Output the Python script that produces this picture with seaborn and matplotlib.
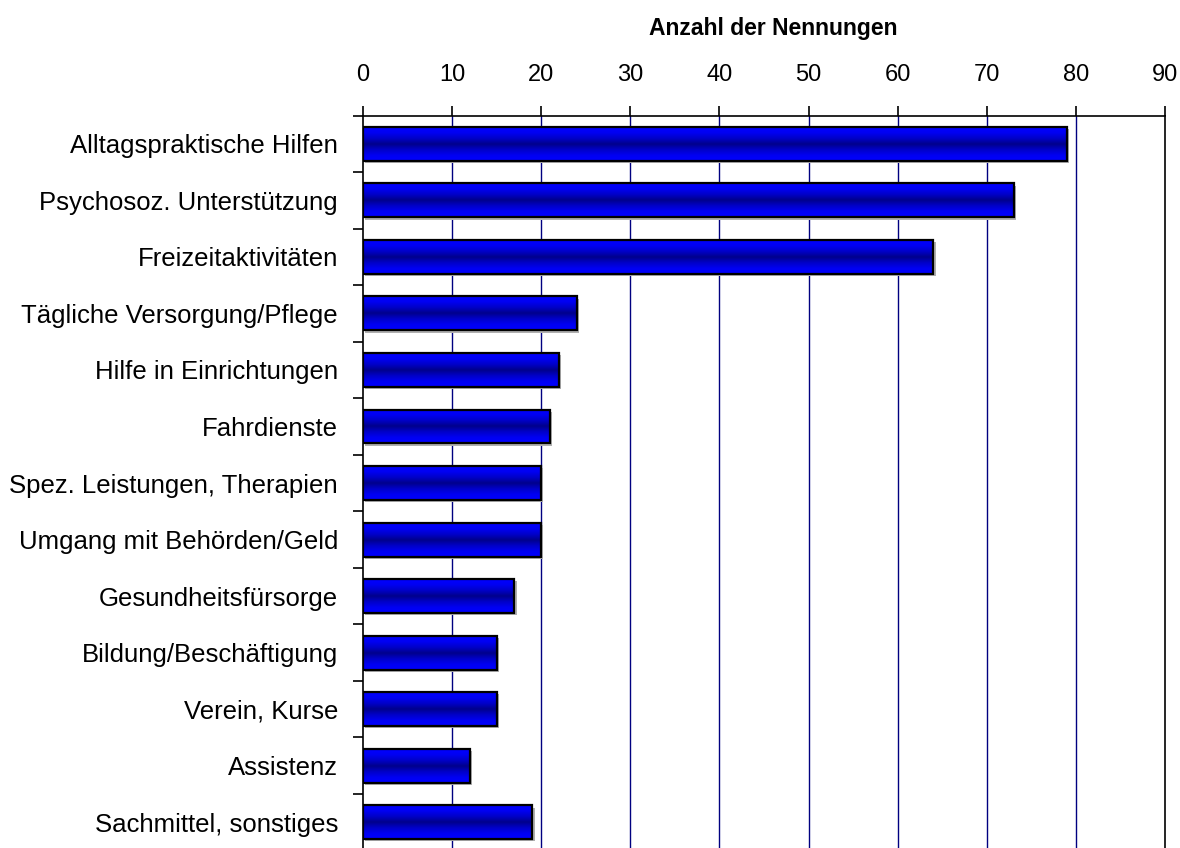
import numpy as np
import pandas as pd
import matplotlib
matplotlib.use("Agg")
import matplotlib.pyplot as plt
import seaborn as sns
from matplotlib.colors import LinearSegmentedColormap
from matplotlib.patches import Rectangle

categories = [
    "Alltagspraktische Hilfen",
    "Psychosoz. Unterstützung",
    "Freizeitaktivitäten",
    "Tägliche Versorgung/Pflege",
    "Hilfe in Einrichtungen",
    "Fahrdienste",
    "Spez. Leistungen, Therapien",
    "Umgang mit Behörden/Geld",
    "Gesundheitsfürsorge",
    "Bildung/Beschäftigung",
    "Verein, Kurse",
    "Assistenz",
    "Sachmittel, sonstiges",
]
counts = [79, 73, 64, 24, 22, 21, 20, 20, 17, 15, 15, 12, 19]
x_ticks = [0, 10, 20, 30, 40, 50, 60, 70, 80, 90]
x_title = "Anzahl der Nennungen"

df = pd.DataFrame({"Kategorie": categories, "Anzahl": counts})

sns.set_theme(style="white")
plt.rcParams["font.family"] = ["Liberation Sans", "DejaVu Sans"]

fig = plt.figure(figsize=(11.8, 8.48), dpi=100)
ax = fig.add_axes([363 / 1180, -0.003, (1165 - 363) / 1180, (850 - 115) / 848])

sns.barplot(data=df, x="Anzahl", y="Kategorie", orient="h", color="#0000ff",
            width=0.6, edgecolor="black", linewidth=1.6, ax=ax, zorder=3)

# vertical gradient fill (bright blue edges, dark navy centre) with a soft shadow
grad_cmap = LinearSegmentedColormap.from_list(
    "bar_grad", ["#0000ff", "#0000f2", "#0000c8", "#00008c", "#0000c8", "#0000f2", "#0000ff"])
grad = np.linspace(0, 1, 512).reshape(-1, 1)
for patch in list(ax.patches):
    x0, y0 = patch.get_x(), patch.get_y()
    w, h = patch.get_width(), patch.get_height()
    shadow = Rectangle((x0 + 0.25, y0 + 0.04), w, h, facecolor="#b0b0b0",
                       edgecolor="none", zorder=2)
    ax.add_patch(shadow)
    im = ax.imshow(grad, cmap=grad_cmap, aspect="auto",
                   extent=(x0, x0 + w, y0 + h, y0), zorder=3.5,
                   interpolation="bilinear")
    im.set_clip_path(patch)
    patch.set_facecolor("none")
    patch.set_zorder(4)

ax.set_xlim(0, 90)
ax.set_ylim(len(categories) - 0.5, -0.5)

# x axis on top
ax.xaxis.tick_top()
ax.xaxis.set_label_position("top")
ax.set_xticks(x_ticks)
ax.set_xticklabels([str(t) for t in x_ticks], fontsize=17, color="black")
ax.tick_params(axis="x", which="major", direction="out", length=7, width=1.2,
               color="black", pad=14, top=True, bottom=False)
ax.set_xlabel(x_title, fontsize=16.5, fontweight="bold", labelpad=21, color="black")
ax.xaxis.label.set_x(0.512)

# category labels at bar centres, ticks at the boundaries between categories
ax.set_ylabel("")
ax.set_yticks(range(len(categories)))
ax.set_yticklabels(categories, fontsize=18.5, color="black")
ax.set_yticks(np.arange(-0.5, len(categories), 1.0), minor=True)
ax.tick_params(axis="y", which="major", length=0, pad=18, left=True)
ax.tick_params(axis="y", which="minor", direction="out", length=7, width=1.2,
               color="black", left=True)

# navy vertical gridlines
ax.grid(False)
for t in x_ticks[1:-1]:
    ax.axvline(t, color="#000080", linewidth=1.0, zorder=1)

for side in ["top", "left", "right"]:
    ax.spines[side].set_visible(True)
    ax.spines[side].set_color("black")
    ax.spines[side].set_linewidth(1.2)
ax.spines["bottom"].set_visible(False)

fig.savefig("out.png", dpi=100, facecolor="white")
